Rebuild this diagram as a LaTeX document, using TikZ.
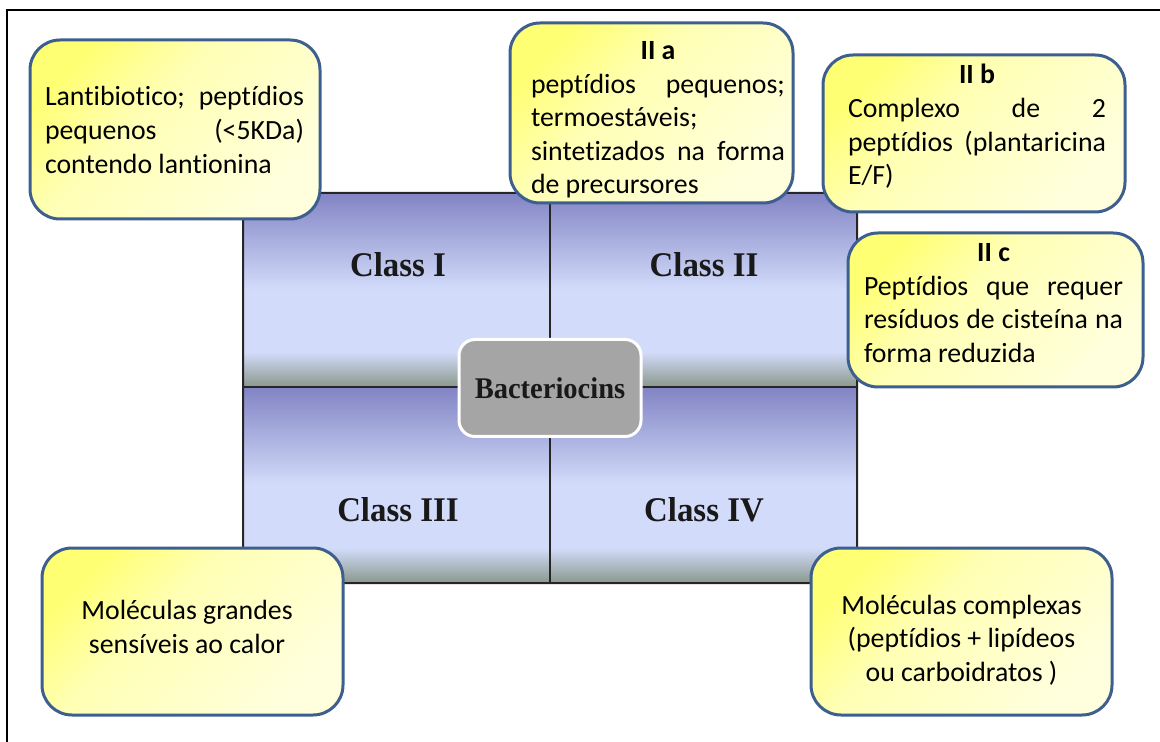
\documentclass[tikz,border=0pt]{standalone}
\usepackage{fontspec}
\setmainfont{Carlito}[Ligatures=CommonOff]
\newfontfamily\classfont[FakeStretch=0.95]{Liberation Serif}
\usetikzlibrary{positioning}

\definecolor{qtop}{RGB}{130,132,196}
\definecolor{qmid}{RGB}{210,220,250}
\definecolor{qbot}{RGB}{138,152,140}
\definecolor{ybright}{RGB}{255,255,115}
\definecolor{ymid}{RGB}{255,255,180}
\definecolor{ypale}{RGB}{255,255,222}
\definecolor{noteblue}{RGB}{61,95,143}
\definecolor{hubgray}{RGB}{165,165,165}

% quadrant fill: dark top, light middle, grey-green foot
\pgfdeclareverticalshading{quadshade}{100bp}{%
  color(0bp)=(qbot); color(25bp)=(qbot); color(34bp)=(qmid);
  color(50bp)=(qmid); color(75bp)=(qtop); color(100bp)=(qtop)}
% note fill: strong yellow in one corner, pale elsewhere
\pgfdeclareverticalshading{noteshade}{100bp}{%
  color(0bp)=(ypale); color(25bp)=(ypale); color(58bp)=(ymid);
  color(75bp)=(ybright); color(100bp)=(ybright)}

\newcommand{\boxtitle}[1]{\hfill\textbf{#1}\hfill\null\\}

\begin{document}
\begin{tikzpicture}[
  x=0.5pt, y=-0.5pt, % one unit = one pixel of the page, y runs down
  notebox/.style={draw=noteblue, line width=1.5pt, rounded corners=15pt,
                  shade, shading=noteshade, shading angle=45, inner sep=0pt},
  notetext/.style={inner sep=0pt, align=flush left,
                   font=\fontsize{13.9}{16.8}\selectfont},
  classlabel/.style={inner sep=0pt, text=black!90,
                     font=\classfont\bfseries\fontsize{17.3}{20}\selectfont},
  hubbox/.style={fill=hubgray, draw=white, line width=1.5pt, rounded corners=8pt,
                 minimum width=91pt, minimum height=48.5pt, text=black!90,
                 font=\classfont\bfseries\fontsize{15}{18}\selectfont},
  gridline/.style={draw=black!85, line width=1pt}
]
  \useasboundingbox (0,0) rectangle (1160,742);

  % page frame (only left and top show)
  \draw[line width=1pt] (7,742) -- (7,10) -- (1160,10);

  % the four quadrants
  \shade[shading=quadshade] (243,193) rectangle (550,387);
  \shade[shading=quadshade] (550,387) -- (550,193) -- (842,193)
        arc[start angle=-90, end angle=0, radius=15] -- (857,387) -- cycle;
  \shade[shading=quadshade] (243,387) rectangle (550,583);
  \shade[shading=quadshade] (550,387) rectangle (857,583);

  \draw[gridline] (243,583) -- (243,193) -- (842,193)
        arc[start angle=-90, end angle=0, radius=15] -- (857,583) -- cycle;
  \draw[gridline] (550,193) -- (550,583);
  \draw[gridline] (243,387) -- (857,387);

  % centre and class names
  \node[hubbox] (hub) at (550,388) {Bacteriocins};
  \node[classlabel] (cls1) at (398,265) {Class I};
  \node[classlabel] (cls2) at (704,265) {Class II};
  \node[classlabel] (cls3) at (398,510) {Class III};
  \node[classlabel] (cls4) at (704,510) {Class IV};

  % notes round the grid
  \node[notebox, minimum width=145pt, minimum height=89.5pt] (n1box) at (175,129.5) {};
  \node[notetext, text width=129.5pt] (n1) at (174.5,130)
    {Lantibiotico;\hfill peptídios\\ pequenos\hfill (<5KDa)\\ contendo lantionina};

  \node[notebox, minimum width=141.5pt, minimum height=90pt] (n2abox) at (651.5,113) {};
  \node[notetext, text width=127pt] (n2a) at (658,120)
    {\boxtitle{II a}peptídios\hfill pequenos;\\ termoestáveis;\\
     sintetizados\hfill na\hfill forma\\ de precursores};

  \node[notebox, minimum width=151pt, minimum height=78.5pt] (n2bbox) at (974,133.5) {};
  \node[notetext, text width=129pt] (n2b) at (977,126.5)
    {\boxtitle{II b}Complexo\hfill de\hfill 2\\ peptídios\hfill (plantaricina\\ E/F)};

  \node[notebox, minimum width=147.5pt, minimum height=77pt] (n2cbox) at (995.5,310) {};
  \node[notetext, text width=129.5pt] (n2c) at (993.5,303)
    {\boxtitle{II c}Peptídios\hfill que\hfill requer\\
     resíduos\hfill de\hfill cisteína\hfill na\\ forma reduzida};

  \node[notebox, minimum width=150.5pt, minimum height=83.5pt] (n3box) at (192.5,631.5) {};
  \node[notetext, align=center] (n3) at (187,627)
    {Moléculas grandes\\ sensíveis ao calor};

  \node[notebox, minimum width=150.5pt, minimum height=83.5pt] (n4box) at (961.5,631.5) {};
  \node[notetext, align=center] (n4) at (961.5,640)
    {Moléculas complexas\\ (peptídios + lipídeos\\ ou carboidratos )};
\end{tikzpicture}
\end{document}
